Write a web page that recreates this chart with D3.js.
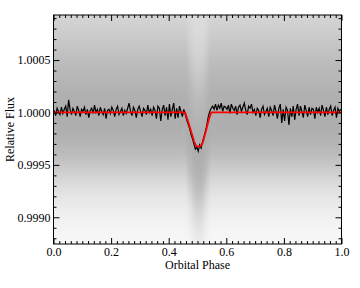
<!DOCTYPE html>
<html><head><meta charset="utf-8">
<script src="https://cdn.jsdelivr.net/npm/d3@7"></script>
<style>
body{margin:0;background:#fff}
svg{display:block}
</style></head><body>
<svg id="c" width="360" height="288"></svg>
<script>
// ---- Data ----
// Binned light curve: deviation from 1 in ppm, bins of width 0.005 in phase starting at 0
const binStart = 0, binWidth = 0.005;
const binFluxPpm = [
  20,-30,40,10,-20,50,-10,30,60,-40,
  120,30,-20,40,10,-30,60,20,-40,30,
  10,50,-20,30,-50,20,40,-10,70,0,
  30,-30,50,10,-20,40,-60,20,30,-10,
  50,20,-40,30,60,-20,10,40,-30,20,
  -10,40,90,10,-30,50,20,-50,30,60,
  10,-40,40,20,-20,70,0,30,-30,50,
  20,-60,60,40,-80,30,70,-30,50,-70,
  80,-40,30,90,-60,40,-50,60,10,-40,
  30,-20,-70,-110,-150,-210,-250,-300,-350,-330,
  -370,-310,-340,-280,-230,-180,-120,-40,10,40,
  60,30,80,20,70,40,90,10,60,50,
  30,70,-10,80,40,20,60,-20,50,70,
  10,50,90,20,-20,60,40,80,0,30,
  -30,40,20,-50,30,60,-20,10,40,-40,
  50,20,-30,70,10,-60,40,80,-100,30,
  -80,50,20,-120,40,-40,60,-70,30,80,
  -30,60,10,-50,70,20,-40,50,-20,40,
  30,-60,50,0,40,-30,70,20,-40,50,
  -20,30,60,-30,20,50,-50,40,10,30
];
// Transit model (red line)
const modelPhase = [0, 0.457, 0.47, 0.48, 0.488, 0.495, 0.503, 0.511, 0.518, 0.53, 0.54, 0.548, 1];
const modelPpm   = [0, 0, -110, -200, -275, -318, -328, -320, -290, -170, -60, 0, 0];
// Scatter of individual points: coverage of the gray cloud vs residual from the model (units of 1e-4)
const residLevels   = [-14,-13,-12,-11,-10,-9,-8,-7,-6,-5,-4,-3,-2,-1,0,1,2,3,4,5,6,7,8,9,10,11];
const residCoverage = [0.06,0.08,0.10,0.12,0.16,0.21,0.28,0.37,0.48,0.60,0.72,0.80,0.85,0.87,0.87,0.86,0.84,0.80,0.76,0.71,0.65,0.58,0.52,0.47,0.43,0.40];
// Axes
const xTicks = [0, 0.2, 0.4, 0.6, 0.8, 1.0];
const xTickLabels = ["0.0","0.2","0.4","0.6","0.8","1.0"];
const yTicks = [0.9990, 0.9995, 1.0000, 1.0005];
const yTickLabels = ["0.9990","0.9995","1.0000","1.0005"];
const xDomain = [0, 1];
const yDomain = [0.998745, 1.00093];
const xLabel = "Orbital Phase", yLabel = "Relative Flux";

// ---- Layout ----
const FONT = '"Liberation Serif"';
const L = 53.5, R = 341.5, T = 15, B = 244;
const svg = d3.select("#c");
const x = d3.scaleLinear().domain(xDomain).range([L, R]);
const y = d3.scaleLinear().domain(yDomain).range([B, T]);
const model = d3.scaleLinear().domain(modelPhase).range(modelPpm.map(v => 1 + v * 1e-6));

// ---- Scatter cloud as density columns ----
const edges = [0, 0.45];
for (let p = 0.455; p < 0.5551; p += 0.005) edges.push(+p.toFixed(3));
edges.push(1);
const defs = svg.append("defs");
const shade = d3.interpolateRgb("#ffffff", "#a2a2a2");
const cloud = svg.append("g");
for (let i = 0; i < edges.length - 1; i++) {
  const p0 = edges[i], p1 = edges[i + 1];
  const m = (i === 0 || i === edges.length - 2) ? 1 : model((p0 + p1) / 2);
  const yTop = y(m + residLevels[residLevels.length - 1] * 1e-4);
  const yBot = y(m + residLevels[0] * 1e-4);
  const g = defs.append("linearGradient").attr("id", "g" + i)
    .attr("gradientUnits", "userSpaceOnUse")
    .attr("x1", 0).attr("x2", 0).attr("y1", yTop).attr("y2", yBot);
  for (let k = residLevels.length - 1; k >= 0; k--) {
    const yy = y(m + residLevels[k] * 1e-4);
    g.append("stop").attr("offset", (yy - yTop) / (yBot - yTop)).attr("stop-color", shade(residCoverage[k]));
  }
  const xa = x(p0), xb = x(p1);
  cloud.append("rect").attr("x", xa).attr("y", T).attr("width", xb - xa + (i < edges.length - 2 ? 0.6 : 0))
    .attr("height", B - T).attr("fill", "url(#g" + i + ")");
}

// ---- Binned curve (black) ----
const bins = binFluxPpm.map((v, i) => ({ p: binStart + (i + 0.5) * binWidth, f: 1 + v * 1e-6 }));
svg.append("path").datum(bins)
  .attr("d", d3.line().x(d => x(d.p)).y(d => y(d.f)))
  .attr("fill", "none").attr("stroke", "#000").attr("stroke-width", 1.2);

// ---- Model (red) ----
const modelPts = modelPhase.map((p, i) => ({ p, f: 1 + modelPpm[i] * 1e-6 }));
svg.append("path").datum(modelPts)
  .attr("d", d3.line().x(d => x(d.p)).y(d => y(d.f)))
  .attr("fill", "none").attr("stroke", "#ff0000").attr("stroke-width", 1.8);

// ---- Axes ----
const fmtX = (d) => xTickLabels[xTicks.findIndex(t => Math.abs(t - d) < 1e-9)];
const fmtY = (d) => yTickLabels[yTicks.findIndex(t => Math.abs(t - d) < 1e-9)];
const xMinor = d3.range(0, 50).map(i => i * 0.02).filter(v => !xTicks.some(t => Math.abs(t - v) < 1e-9));
const yMinor = d3.range(-12, 10).map(i => 1 + i * 1e-4).filter(v => v > yDomain[0] && v < yDomain[1] && !yTicks.some(t => Math.abs(t - v) < 1e-9));

function styleAxis(g) {
  g.attr("font-family", FONT).attr("font-size", 12);
  g.select(".domain").remove();
  g.selectAll("line").attr("stroke", "#000").attr("stroke-width", 1);
  g.selectAll("text").attr("font-family", FONT).attr("font-size", 12).attr("fill", "#000");
}
// bottom
svg.append("g").attr("transform", `translate(0,${B})`)
  .call(d3.axisBottom(x).tickValues(xTicks).tickFormat(fmtX).tickSizeInner(-6).tickSizeOuter(0).tickPadding(3)).call(styleAxis);
svg.append("g").attr("transform", `translate(0,${B})`)
  .call(d3.axisBottom(x).tickValues(xMinor).tickFormat("").tickSizeInner(-3).tickSizeOuter(0)).call(styleAxis);
// top
svg.append("g").attr("transform", `translate(0,${T})`)
  .call(d3.axisTop(x).tickValues(xTicks).tickFormat("").tickSizeInner(-6).tickSizeOuter(0)).call(styleAxis);
svg.append("g").attr("transform", `translate(0,${T})`)
  .call(d3.axisTop(x).tickValues(xMinor).tickFormat("").tickSizeInner(-3).tickSizeOuter(0)).call(styleAxis);
// left
svg.append("g").attr("transform", `translate(${L},0)`)
  .call(d3.axisLeft(y).tickValues(yTicks).tickFormat(fmtY).tickSizeInner(-6).tickSizeOuter(0).tickPadding(3)).call(styleAxis);
svg.append("g").attr("transform", `translate(${L},0)`)
  .call(d3.axisLeft(y).tickValues(yMinor).tickFormat("").tickSizeInner(-3).tickSizeOuter(0)).call(styleAxis);
// right
svg.append("g").attr("transform", `translate(${R},0)`)
  .call(d3.axisRight(y).tickValues(yTicks).tickFormat("").tickSizeInner(-6).tickSizeOuter(0)).call(styleAxis);
svg.append("g").attr("transform", `translate(${R},0)`)
  .call(d3.axisRight(y).tickValues(yMinor).tickFormat("").tickSizeInner(-3).tickSizeOuter(0)).call(styleAxis);

// frame
svg.append("rect").attr("x", L).attr("y", T).attr("width", R - L).attr("height", B - T)
  .attr("fill", "none").attr("stroke", "#000").attr("stroke-width", 1);

// labels
svg.append("text").attr("x", (L + R) / 2).attr("y", 269).attr("text-anchor", "middle")
  .attr("font-family", FONT).attr("font-size", 12).attr("fill", "#000").text(xLabel);
svg.append("text").attr("transform", `translate(13.5,${(T + B) / 2}) rotate(-90)`).attr("text-anchor", "middle")
  .attr("font-family", FONT).attr("font-size", 12).attr("fill", "#000").text(yLabel);
</script>
</body></html>
